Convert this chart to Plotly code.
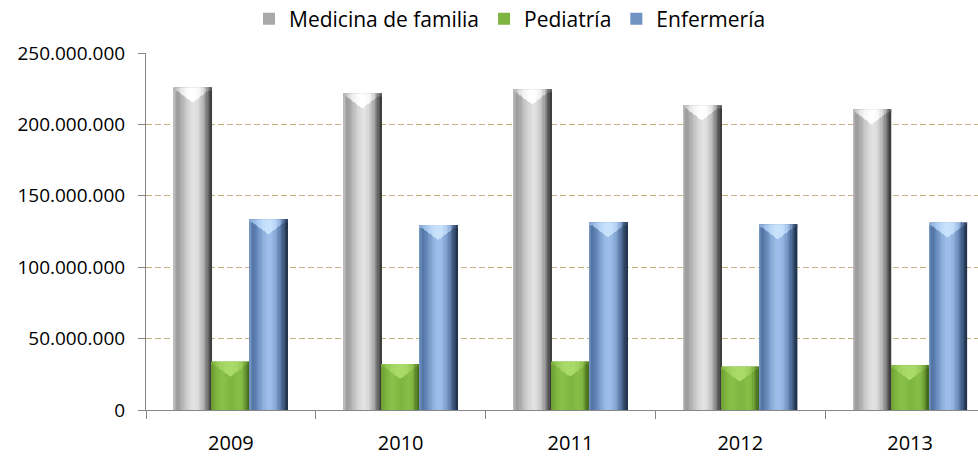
import plotly.graph_objects as go

# ---- data ----
years = ["2009", "2010", "2011", "2012", "2013"]
medicina = [225_800_000, 221_700_000, 224_500_000, 213_300_000, 210_500_000]
pediatria = [33_800_000, 32_200_000, 33_800_000, 30_300_000, 31_300_000]
enfermeria = [133_500_000, 129_500_000, 131_400_000, 130_000_000, 131_200_000]
series_names = ["Medicina de familia", "Pediatría", "Enfermería"]
ytick_vals = [0, 50_000_000, 100_000_000, 150_000_000, 200_000_000, 250_000_000]
ytick_text = ["0", "50.000.000", "100.000.000", "150.000.000", "200.000.000", "250.000.000"]

# ---- styling: key colours of a cylinder-like horizontal shading ----
profiles = {
    "Medicina de familia": ["#c4c4c4", "#9a9a9a", "#a9a9a9", "#bdbdbd", "#cfcfcf", "#dcdcdc",
                            "#e3e3e3", "#dbdbdb", "#c6c6c6", "#a2a2a2", "#6a6a6a", "#343434"],
    "Pediatría": ["#6a9a30", "#78ad3a", "#82ba44", "#88c04a", "#86be48", "#80b842",
                  "#7eb440", "#82ba44", "#86be48", "#7fb540", "#5e8c2c", "#3e6018"],
    "Enfermería": ["#7a9cc8", "#4f72a2", "#5f84b6", "#7899c8", "#8cafdc", "#9abce6",
                   "#9dbfe8", "#92b4de", "#7c9ccb", "#5c7aa8", "#3a5478", "#1e2e44"],
}
cap_colors = {
    "Medicina de familia": ["#b0b0b0", "#c8c8c8", "#e4e4e4", "#f2f2f2", "#fafafa", "#ffffff",
                            "#ffffff", "#fafafa", "#eeeeee", "#cfcfcf", "#8a8a8a", "#505050"],
    "Pediatría": ["#7aa83a", "#8cc04c", "#98cc58", "#a2d462", "#a8d868", "#aadb6a",
                  "#aadb6a", "#a8d868", "#a0d060", "#90c450", "#6c9c34", "#4a7020"],
    "Enfermería": ["#8aaad4", "#90b2dc", "#a4c4ea", "#b4d2f4", "#c0dcfa", "#c8e2fc",
                   "#c8e2fc", "#c0dcfa", "#b0ccf0", "#8eacd8", "#4c6890", "#2a3c58"],
}
legend_colors = {"Medicina de familia": "#a8a8a8", "Pediatría": "#7eb440", "Enfermería": "#6f92c2"}
values = {"Medicina de familia": medicina, "Pediatría": pediatria, "Enfermería": enfermeria}

N_STRIPS = 30
CAP_MAX_PX = 15
CAP_MIN_PX = 3
px_per_unit = 357 / 250_000_000
bar_w = 0.2235
group_start = -1.5 * bar_w


def hex2rgb(h):
    h = h.lstrip("#")
    return [int(h[i:i + 2], 16) for i in (0, 2, 4)]


def sample(keys, t):
    pos = t * (len(keys) - 1)
    i = min(int(pos), len(keys) - 2)
    f = pos - i
    a, b = hex2rgb(keys[i]), hex2rgb(keys[i + 1])
    c = [round(a[k] + (b[k] - a[k]) * f) for k in range(3)]
    return "rgb({},{},{})".format(*c)


fig = go.Figure()
for si, name in enumerate(series_names):
    strip_w = bar_w / N_STRIPS
    left = group_start + si * bar_w
    vals = values[name]
    fig.add_trace(go.Bar(
        x=years, y=vals, name=name, width=bar_w, offset=left,
        marker=dict(color=legend_colors[name], line=dict(width=0)),
        showlegend=True, hoverinfo="skip",
    ))
    for j in range(N_STRIPS):
        t = (j + 0.5) / N_STRIPS
        fig.add_trace(go.Bar(
            x=years, y=vals, width=strip_w * 1.1, offset=left + j * strip_w,
            marker=dict(color=sample(profiles[name], t), line=dict(width=0)),
            showlegend=False, hoverinfo="skip",
        ))
        depth = CAP_MIN_PX + (CAP_MAX_PX - CAP_MIN_PX) * max(0.0, 1 - abs(t - 0.5) / 0.42)
        h = depth / px_per_unit
        fig.add_trace(go.Bar(
            x=years, y=[h] * len(vals), base=[v - h for v in vals],
            width=strip_w * 1.1, offset=left + j * strip_w,
            marker=dict(color=sample(cap_colors[name], t), line=dict(width=0)),
            showlegend=False, hoverinfo="skip",
        ))

fig.update_layout(
    width=978, height=457,
    barmode="overlay",
    paper_bgcolor="white", plot_bgcolor="white",
    margin=dict(l=146, r=0, t=53, b=47, autoexpand=False),
    font=dict(family="Open Sans, sans-serif", size=19, color="#000000"),
    legend=dict(
        orientation="h", x=0.4375, xanchor="center", y=1.095, yanchor="middle",
        font=dict(size=21, color="#000000"), bgcolor="rgba(0,0,0,0)",
        itemwidth=30, traceorder="normal",
    ),
    xaxis=dict(
        type="category", range=[-0.5, 4.4], automargin=False,
        showline=True, linecolor="#868686", linewidth=1,
        ticks="outside", tickson="boundaries", ticklen=8, tickcolor="#868686",
        showgrid=False, tickfont=dict(size=20), ticklabelstandoff=15, fixedrange=True,
    ),
    yaxis=dict(
        range=[0, 250_000_000], tickvals=ytick_vals, ticktext=ytick_text, automargin=False,
        showline=True, linecolor="#868686", linewidth=1,
        ticks="outside", ticklen=7, tickcolor="#868686",
        showgrid=True, gridcolor="#c4b47c", griddash="6px,3px", gridwidth=1,
        zeroline=False, tickfont=dict(size=19), ticklabelstandoff=9, fixedrange=True,
    ),
)

fig.write_html("out.html", config={"displayModeBar": False},
               post_script="document.body.style.margin='0';")
